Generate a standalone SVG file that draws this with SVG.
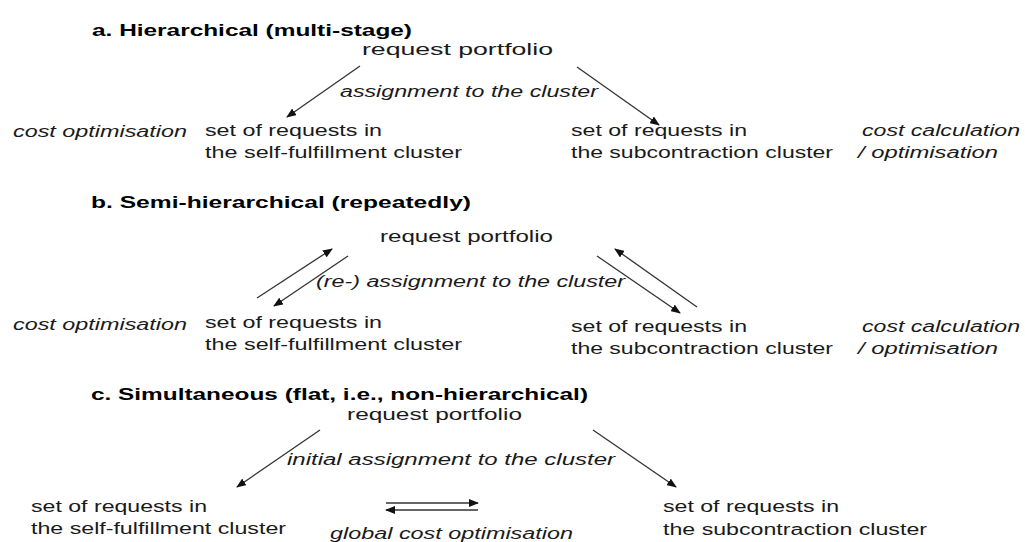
<svg xmlns="http://www.w3.org/2000/svg" width="1025" height="542" viewBox="0 0 1025 542">
<style>
text{font-family:"Liberation Sans",Arial,sans-serif;font-size:16px;fill:#1a1a1a}
.t{font-weight:bold;font-size:17px;fill:#000}
.i{font-style:italic}
.c line{stroke:#333;stroke-width:1.3;marker-end:url(#ah)}
</style>
<defs>
<marker id="ah" viewBox="0 0 10 8" refX="9" refY="4" markerWidth="10" markerHeight="8" markerUnits="userSpaceOnUse" orient="auto">
<path d="M0,0 L10,4 L0,8 z" fill="#111"/>
</marker>
</defs>
<rect width="1025" height="542" fill="#fff"/>

<g id="section-a">
<text class="t" x="92" y="36" textLength="320" lengthAdjust="spacingAndGlyphs">a. Hierarchical (multi-stage)</text>
<g id="a-portfolio"><text x="362" y="55" textLength="191" lengthAdjust="spacingAndGlyphs">request portfolio</text></g>
<text class="i" x="340" y="97" textLength="258" lengthAdjust="spacingAndGlyphs">assignment to the cluster</text>
<text class="i" x="13" y="137" textLength="174" lengthAdjust="spacingAndGlyphs">cost optimisation</text>
<g id="a-self"><text x="205" y="136" textLength="177" lengthAdjust="spacingAndGlyphs">set of requests in</text>
<text x="205" y="158" textLength="257" lengthAdjust="spacingAndGlyphs">the self-fulfillment cluster</text></g>
<g id="a-sub"><text x="571" y="136" textLength="176" lengthAdjust="spacingAndGlyphs">set of requests in</text>
<text x="571" y="158" textLength="262" lengthAdjust="spacingAndGlyphs">the subcontraction cluster</text></g>
<text class="i" x="862" y="136" textLength="158" lengthAdjust="spacingAndGlyphs">cost calculation</text>
<text class="i" x="858" y="158" textLength="140" lengthAdjust="spacingAndGlyphs">/ optimisation</text>
</g>

<g id="section-b">
<text class="t" x="91" y="208" textLength="380" lengthAdjust="spacingAndGlyphs">b. Semi-hierarchical (repeatedly)</text>
<g id="b-portfolio"><text x="380" y="242" textLength="173" lengthAdjust="spacingAndGlyphs">request portfolio</text></g>
<text class="i" x="316" y="287" textLength="309" lengthAdjust="spacingAndGlyphs">(re-) assignment to the cluster</text>
<text class="i" x="13" y="330" textLength="174" lengthAdjust="spacingAndGlyphs">cost optimisation</text>
<g id="b-self"><text x="205" y="328" textLength="177" lengthAdjust="spacingAndGlyphs">set of requests in</text>
<text x="205" y="350" textLength="257" lengthAdjust="spacingAndGlyphs">the self-fulfillment cluster</text></g>
<g id="b-sub"><text x="571" y="332" textLength="176" lengthAdjust="spacingAndGlyphs">set of requests in</text>
<text x="571" y="354" textLength="262" lengthAdjust="spacingAndGlyphs">the subcontraction cluster</text></g>
<text class="i" x="862" y="332" textLength="158" lengthAdjust="spacingAndGlyphs">cost calculation</text>
<text class="i" x="858" y="354" textLength="140" lengthAdjust="spacingAndGlyphs">/ optimisation</text>
</g>

<g id="section-c">
<text class="t" x="91" y="400" textLength="497" lengthAdjust="spacingAndGlyphs">c. Simultaneous (flat, i.e., non-hierarchical)</text>
<g id="c-portfolio"><text x="347" y="420" textLength="175" lengthAdjust="spacingAndGlyphs">request portfolio</text></g>
<text class="i" x="287" y="465" textLength="328" lengthAdjust="spacingAndGlyphs">initial assignment to the cluster</text>
<g id="c-self"><text x="31" y="512" textLength="176" lengthAdjust="spacingAndGlyphs">set of requests in</text>
<text x="31" y="534" textLength="255" lengthAdjust="spacingAndGlyphs">the self-fulfillment cluster</text></g>
<text class="i" x="330" y="539" textLength="243" lengthAdjust="spacingAndGlyphs">global cost optimisation</text>
<g id="c-sub"><text x="663" y="512" textLength="176" lengthAdjust="spacingAndGlyphs">set of requests in</text>
<text x="663" y="535" textLength="264" lengthAdjust="spacingAndGlyphs">the subcontraction cluster</text></g>
</g>

<g id="connectors" class="c">
<line x1="360" y1="66" x2="287" y2="117"/>
<line x1="577" y1="67" x2="659" y2="125"/>
<line x1="257" y1="298" x2="332" y2="249"/>
<line x1="348" y1="256" x2="274" y2="306"/>
<line x1="597" y1="256" x2="680" y2="313"/>
<line x1="697" y1="307" x2="615" y2="249"/>
<line x1="320" y1="430" x2="237" y2="487"/>
<line x1="593" y1="430" x2="676" y2="487"/>
<line x1="386" y1="503" x2="478" y2="503"/>
<line x1="478" y1="510" x2="386" y2="510"/>
</g>
</svg>
